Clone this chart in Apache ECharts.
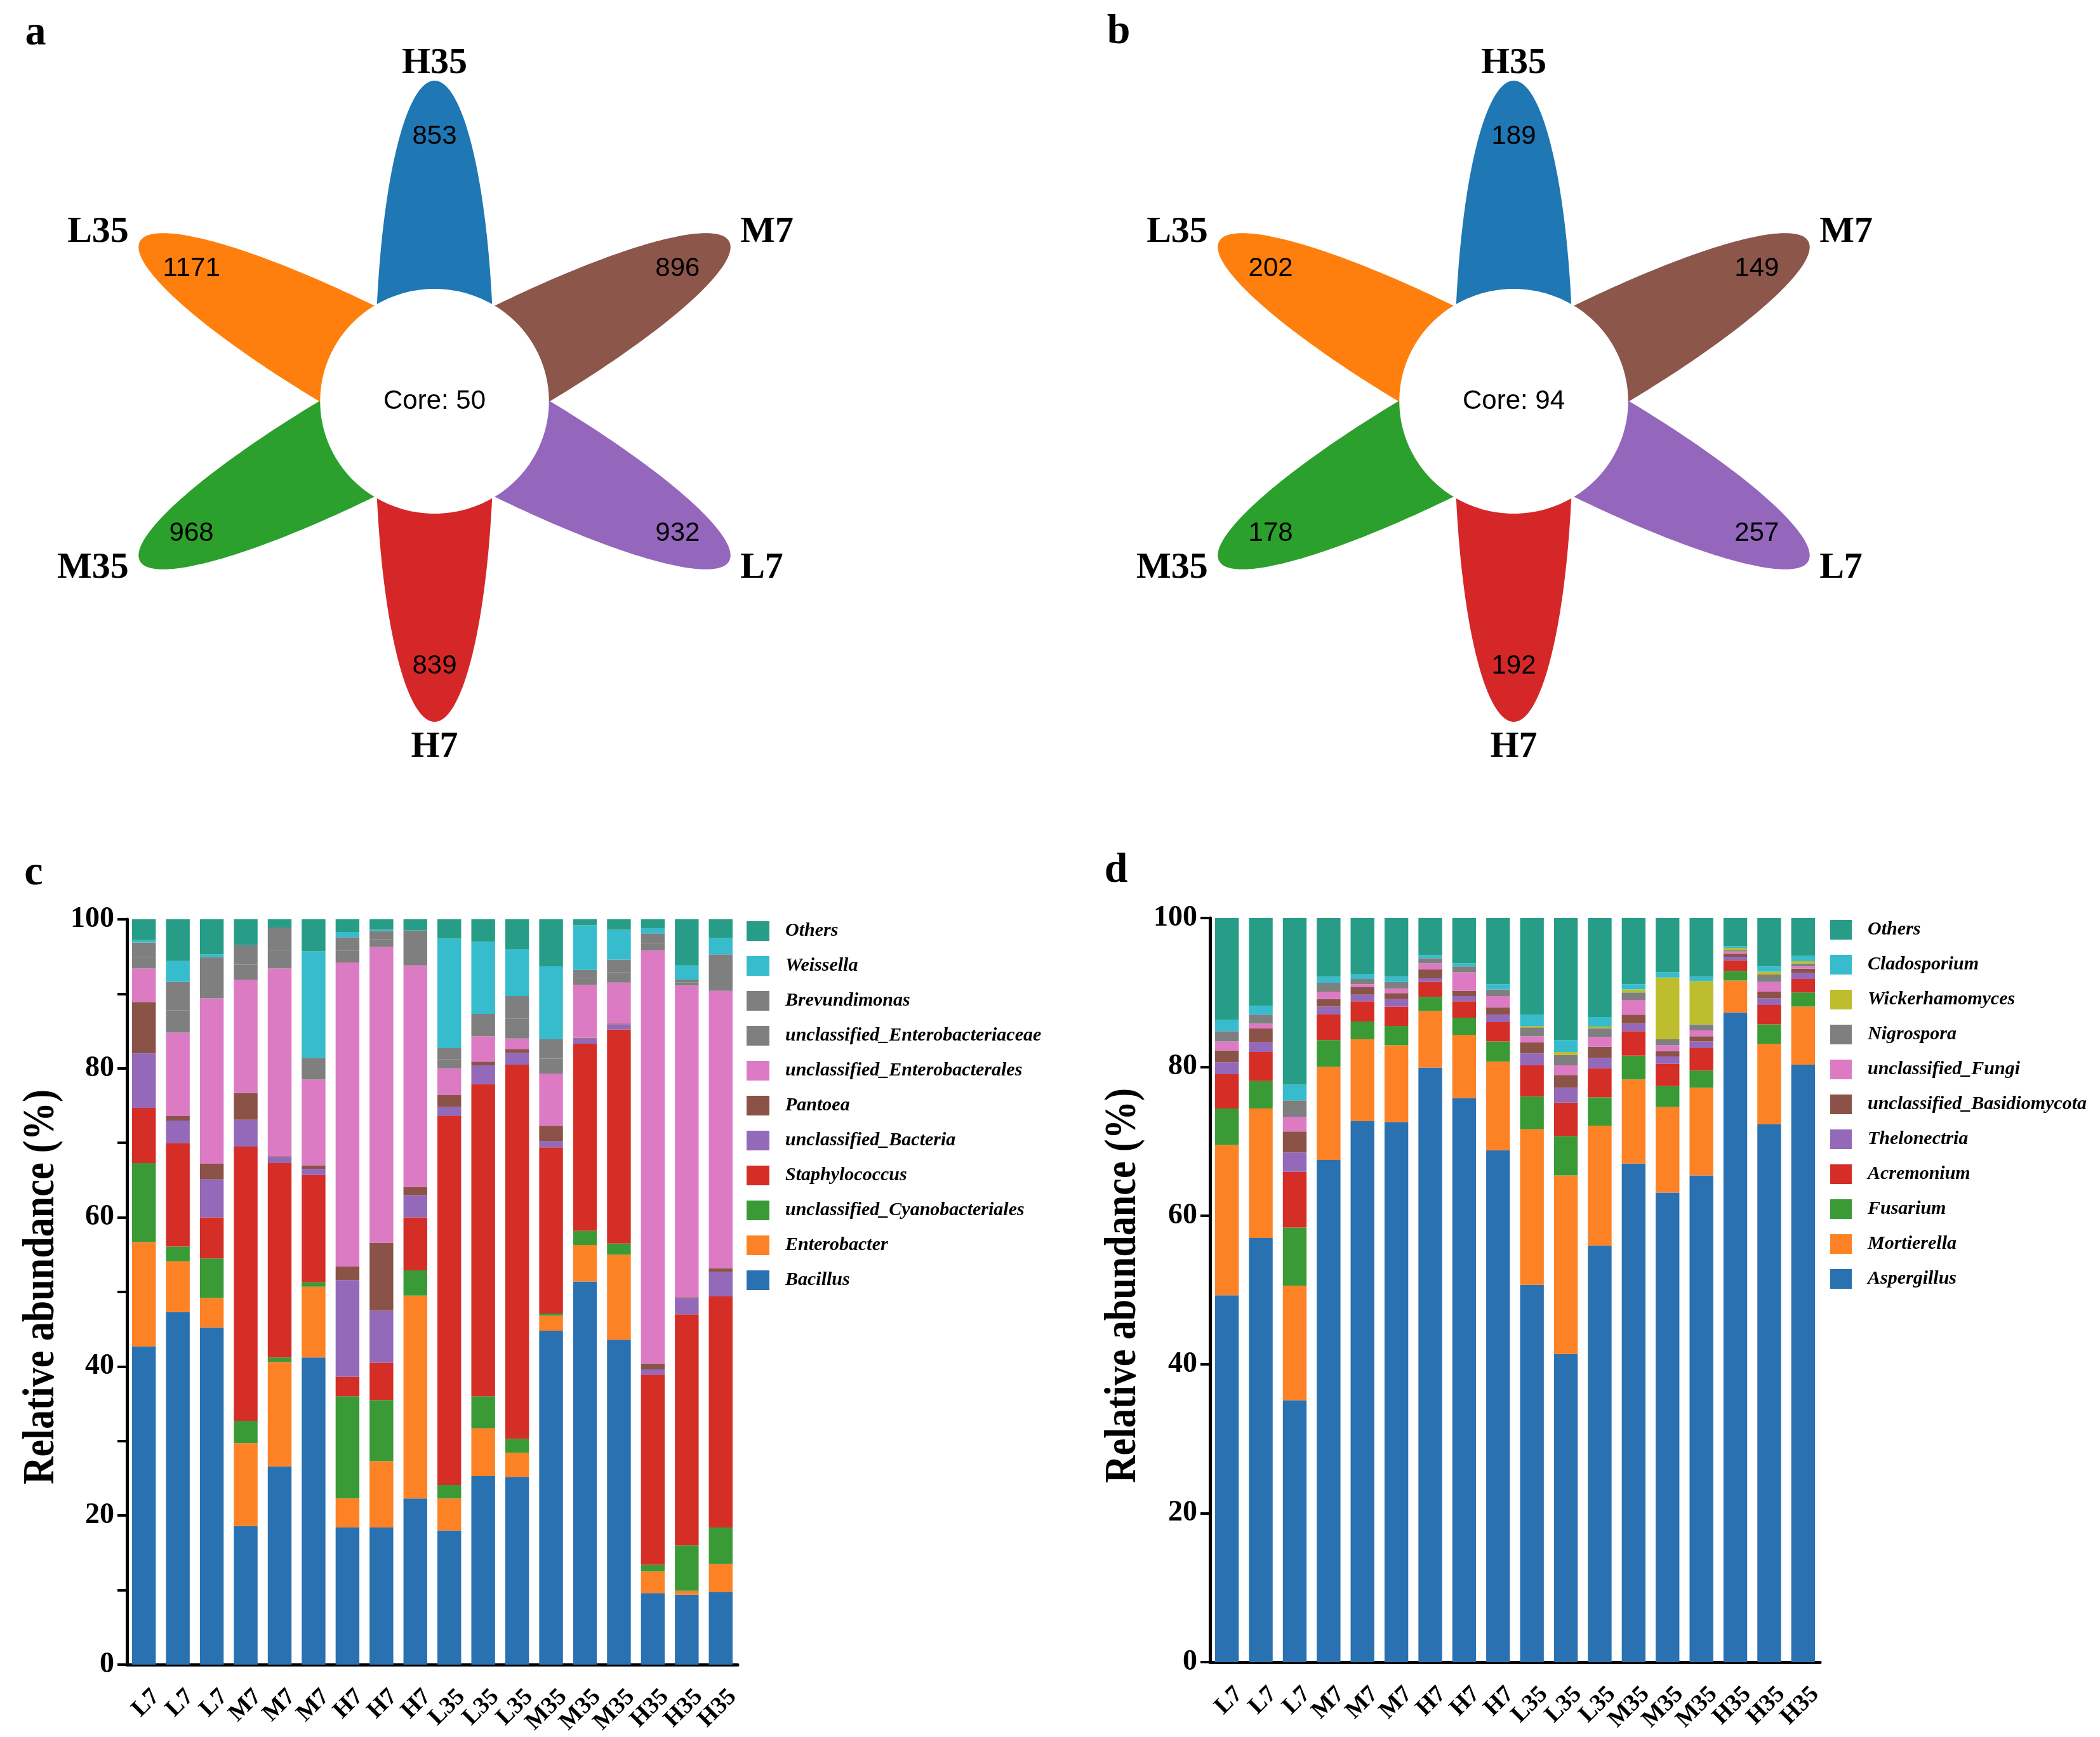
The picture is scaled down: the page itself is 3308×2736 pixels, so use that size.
<!DOCTYPE html>
<html>
<head>
<meta charset="utf-8">
<script src="https://cdn.jsdelivr.net/npm/echarts@6/dist/echarts.min.js"></script>
<style>html,body{margin:0;padding:0;background:#fff}#c{width:3308px;height:2736px}</style>
</head>
<body>
<div id="c"></div>
<script>
// ---------- Flower (Venn) data ----------
const petalNames = ['H35', 'M7', 'L7', 'H7', 'M35', 'L35'];
const petalColors = ['#1f77b4', '#8c564b', '#9467bd', '#d62728', '#2ca02c', '#ff7f0e'];
const bacteriaUnique = [853, 896, 932, 839, 968, 1171];
const bacteriaCore = 50;
const fungiUnique = [189, 149, 257, 192, 178, 202];
const fungiCore = 94;

// ---------- Stacked bar data ----------
const sampleLabels = ['L7','L7','L7','M7','M7','M7','H7','H7','H7','L35','L35','L35','M35','M35','M35','H35','H35','H35'];
const yTicks = [0, 20, 40, 60, 80, 100];
const yTitle = 'Relative abundance (%)';

// panel c (bacteria), bottom -> top
const bacNames = ['Bacillus','Enterobacter','unclassified_Cyanobacteriales','Staphylococcus','unclassified_Bacteria','Pantoea','unclassified_Enterobacterales','unclassified_Enterobacteriaceae','Brevundimonas','Weissella','Others'];
const bacColors = ['#2a71b1','#fd8226','#3a9b36','#d42e27','#9469b9','#8b5248','#dc7bc4','#7f7f7f','#7f7f7f','#36bccd','#279d88'];
const Bacillus = [42.7,47.3,45.2,18.6,26.6,41.2,18.4,18.4,22.3,18.0,25.3,25.2,44.8,51.4,43.6,9.6,9.4,9.7];
const Enterobacter = [14.0,6.8,4.0,11.1,14.0,9.5,3.9,8.9,27.2,4.3,6.4,3.2,2.0,4.9,11.4,2.9,0.5,3.8];
const uCyanobacteriales = [10.6,2.0,5.3,3.0,0.6,0.6,13.7,8.2,3.4,1.8,4.3,1.9,0.3,1.9,1.5,0.9,6.1,4.9];
const Staphylococcus = [7.4,13.9,5.5,36.8,26.1,14.4,2.6,5.0,7.1,49.5,41.9,50.2,22.3,25.1,28.7,25.5,31.0,31.0];
const uBacteria = [7.3,3.0,5.1,3.6,0.8,0.8,13.0,7.0,3.0,1.2,2.5,1.6,0.8,0.7,0.7,0.7,2.2,3.3];
const Pantoea = [6.9,0.6,2.1,3.6,0.1,0.5,1.8,9.1,1.1,1.6,0.5,0.5,2.1,0.1,0.1,0.8,0.1,0.5];
const uEnterobacterales = [4.5,11.2,22.2,15.2,25.2,11.5,40.8,39.7,29.7,3.6,3.4,1.4,7.0,7.1,5.5,55.4,41.8,37.2];
const uEnterobacteriaceae = [1.5,3.0,2.5,2.0,2.5,1.4,1.6,1.0,2.2,1.2,1.4,2.7,2.0,0.9,1.4,1.0,0.4,2.2];
const Brevundimonas = [2.0,3.8,3.0,2.6,3.0,1.5,1.8,1.1,2.5,1.5,1.6,3.0,2.6,1.1,1.7,1.3,0.4,2.7];
const Weissella = [0.3,2.8,0.4,0.1,0.0,14.3,0.7,0.2,0.0,14.7,9.7,6.3,9.8,6.0,4.0,0.7,1.9,2.2];
const bacOthers = [2.8,5.6,4.7,3.4,1.1,4.3,1.7,1.4,1.5,2.6,3.0,4.0,6.3,0.8,1.4,1.2,6.2,2.5];
const bacValues = [Bacillus,Enterobacter,uCyanobacteriales,Staphylococcus,uBacteria,Pantoea,uEnterobacterales,uEnterobacteriaceae,Brevundimonas,Weissella,bacOthers];

// panel d (fungi), bottom -> top
const funNames = ['Aspergillus','Mortierella','Fusarium','Acremonium','Thelonectria','unclassified_Basidiomycota','unclassified_Fungi','Nigrospora','Wickerhamomyces','Cladosporium','Others '];
const funColors = ['#2a71b1','#fd8226','#3a9b36','#d42e27','#9469b9','#8b5248','#dc7bc4','#7f7f7f','#bdbd2e','#36bccd','#279d88'];
const Aspergillus = [49.3,57.0,35.2,67.5,72.7,72.6,79.9,75.8,68.8,50.7,41.4,56.0,67.0,63.1,65.4,87.3,72.3,80.3];
const Mortierella = [20.2,17.4,15.4,12.5,11.0,10.3,7.6,8.5,11.9,20.9,24.0,16.1,11.3,11.5,11.8,4.3,10.8,7.8];
const Fusarium = [4.9,3.7,7.8,3.6,2.4,2.6,1.9,2.3,2.7,4.4,5.3,3.8,3.2,2.8,2.3,1.3,2.6,1.9];
const Acremonium = [4.6,3.9,7.5,3.5,2.7,2.6,2.0,2.2,2.6,4.2,4.5,3.9,3.3,3.0,3.0,1.4,2.6,1.8];
const Thelonectria = [1.6,1.3,2.6,1.0,0.9,1.0,0.5,0.7,1.0,1.6,2.0,1.4,1.0,1.0,0.9,0.5,0.9,0.8];
const uBasidiomycota = [1.6,1.9,2.8,1.0,1.0,0.8,1.2,0.7,1.0,1.5,1.7,1.5,1.2,0.7,0.7,0.4,0.9,0.6];
const uFungi = [1.2,0.6,2.0,1.0,0.4,0.6,0.8,2.5,1.5,0.8,1.3,1.3,2.0,0.8,0.8,0.3,1.3,0.3];
const Nigrospora = [1.4,1.2,2.2,1.2,0.7,0.9,0.7,0.8,0.9,1.2,1.4,1.2,1.0,0.8,0.8,0.2,1.0,0.4];
const Wickerhamomyces = [0,0,0,0,0,0,0,0,0,0.2,0.4,0.2,0.4,8.3,5.8,0.3,0.4,0.3];
const Cladosporium = [1.5,1.2,2.1,0.8,0.7,0.7,0.4,0.4,0.7,1.5,1.6,1.3,0.7,0.7,0.6,0.2,0.7,0.7];
const funOthers = [13.7,11.8,22.4,7.9,7.5,7.9,5.0,6.1,8.9,13.0,16.4,13.3,8.9,7.3,7.9,3.8,6.5,5.1];
const funValues = [Aspergillus,Mortierella,Fusarium,Acremonium,Thelonectria,uBasidiomycota,uFungi,Nigrospora,Wickerhamomyces,Cladosporium,funOthers];

// ---------- styling ----------
const SERIF = "'Liberation Serif','Times New Roman',serif";
const SANS = "'Liberation Sans',Arial,Helvetica,sans-serif";
const PETAL_A = 460, PETAL_B = 88, PETAL_C = 45, PETAL_BASE = 20;
const CORE_RX = 170, CORE_RY = 177;

function petalRender(params, api) {
  const i = params.dataIndex;
  const th = (90 - 60 * i) * Math.PI / 180;
  const ct = Math.cos(th), st = Math.sin(th);
  const t0 = Math.acos((PETAL_BASE - PETAL_C) / PETAL_A);
  const pts = [];
  const N = 120;
  for (let k = 0; k <= N; k++) {
    const t = -t0 + 2 * t0 * k / N;
    const lx = PETAL_C + PETAL_A * Math.cos(t), ly = PETAL_B * Math.sin(t);
    pts.push(api.coord([lx * ct - ly * st, lx * st + ly * ct]));
  }
  const cpos = api.coord([417 * ct, 417 * st]);
  const tip = PETAL_C + PETAL_A;
  let npos, align;
  if (Math.abs(ct) < 0.01) {
    npos = api.coord([0, st > 0 ? 532 : -545]);
    align = 'center';
  } else {
    npos = api.coord([tip * ct + (ct > 0 ? 17 : -17), tip * st + (st > 0 ? 13 : -11)]);
    align = ct > 0 ? 'left' : 'right';
  }
  return {
    type: 'group',
    children: [
      {type: 'polygon', shape: {points: pts}, style: {fill: petalColors[i]}},
      {type: 'text', x: cpos[0], y: cpos[1], style: {text: String(api.value(2)), font: '42px ' + SANS, fill: '#000', align: 'center', verticalAlign: 'middle'}},
      {type: 'text', x: npos[0], y: npos[1], style: {text: petalNames[i], font: 'bold 58px ' + SERIF, fill: '#000', align, verticalAlign: 'middle'}}
    ]
  };
}
function coreRender(params, api) {
  const pts = [];
  for (let k = 0; k < 180; k++) {
    const t = 2 * Math.PI * k / 180;
    pts.push(api.coord([CORE_RX * Math.cos(t), CORE_RY * Math.sin(t)]));
  }
  const c = api.coord([0, 0]);
  return {
    type: 'group',
    children: [
      {type: 'polygon', shape: {points: pts}, style: {fill: '#fff'}},
      {type: 'text', x: c[0], y: c[1], style: {text: 'Core: ' + api.value(2), font: '42px ' + SANS, fill: '#000', align: 'center', verticalAlign: 'middle'}}
    ]
  };
}

function flowerSeries(counts, core, idx) {
  return [
    {type: 'custom', xAxisIndex: idx, yAxisIndex: idx, renderItem: petalRender, silent: true, clip: false,
      data: counts.map((v, i) => ({name: petalNames[i], value: [0, 0, v]}))},
    {type: 'custom', xAxisIndex: idx, yAxisIndex: idx, renderItem: coreRender, silent: true, clip: false, z: 5,
      data: [{value: [0, 0, core]}]}
  ];
}

const axisTextStyle = {color: '#000', fontFamily: SERIF, fontWeight: 'bold'};

function valueAxis(gridIndex, interval) {
  return {
    gridIndex, type: 'value', min: 0, max: 100, interval,
    axisLine: {show: true, lineStyle: {color: '#000', width: 5}},
    axisTick: {show: true, length: 15, lineStyle: {color: '#000', width: 4}},
    axisLabel: Object.assign({fontSize: 46, margin: 20, formatter: v => (yTicks.indexOf(v) >= 0 ? String(v) : '')}, axisTextStyle),
    splitLine: {show: false}
  };
}
function catAxis(gridIndex) {
  return {
    gridIndex, type: 'category', data: sampleLabels,
    axisLine: {show: true, lineStyle: {color: '#000', width: 5}},
    axisTick: {show: false},
    axisLabel: Object.assign({
      rotate: 45, interval: 0, margin: 26,
      formatter: v => '{gap| }\n{t|' + v + '}',
      rich: {
        gap: {fontSize: 10, lineHeight: 54, height: 54},
        t: {fontSize: 38, lineHeight: 44, color: '#000', fontFamily: SERIF, fontWeight: 'bold'}
      }
    }, axisTextStyle)
  };
}
function hiddenAxis(gridIndex, min, max) {
  return {gridIndex, type: 'value', min, max, show: false, splitLine: {show: false}};
}

function barSeries(names, values, colors, idx, stack) {
  return names.map((n, k) => ({
    type: 'bar', name: n, stack, xAxisIndex: idx, yAxisIndex: idx, barWidth: '70%',
    itemStyle: {color: colors[k]}, data: values[k], silent: true
  }));
}

function letter(t, x, y) {
  return {type: 'text', x, y, style: {text: t, font: 'bold 66px ' + SERIF, fill: '#000', align: 'center', verticalAlign: 'middle'}};
}
function yTitleText(x, y) {
  return {type: 'text', x, y, rotation: Math.PI / 2, scaleX: 0.86, scaleY: 1,
    style: {text: yTitle, font: 'bold 70px ' + SERIF, fill: '#000', align: 'center', verticalAlign: 'middle'}};
}

const legendText = {color: '#000', fontFamily: SERIF, fontWeight: 'bold', fontStyle: 'italic', fontSize: 30, padding: [0, 0, 0, 20]};

const chart = echarts.init(document.getElementById('c'), null, {renderer: 'canvas'});
chart.setOption({
  backgroundColor: '#fff',
  animation: false,
  grid: [
    {left: 200, top: 1448, width: 962, height: 1174, outerBoundsMode: 'none'},
    {left: 1906, top: 1446, width: 961, height: 1172, outerBoundsMode: 'none'},
    {left: 6, top: 12, width: 1357, height: 1240, outerBoundsMode: 'none'},
    {left: 1706, top: 12, width: 1357, height: 1240, outerBoundsMode: 'none'}
  ],
  xAxis: [catAxis(0), catAxis(1), hiddenAxis(2, -640, 640), hiddenAxis(3, -640, 640)],
  yAxis: [valueAxis(0, 10), valueAxis(1, 20), hiddenAxis(2, -620, 620), hiddenAxis(3, -620, 620)],
  legend: [
    {orient: 'vertical', left: 1171, top: 1446, itemWidth: 36, itemHeight: 31, itemGap: 24, icon: 'rect',
      data: bacNames.slice().reverse(), textStyle: legendText, selectedMode: false},
    {orient: 'vertical', left: 2878, top: 1444, itemWidth: 34, itemHeight: 31, itemGap: 24, icon: 'rect',
      data: funNames.slice().reverse(), textStyle: legendText, selectedMode: false,
      formatter: n => n.trim()}
  ],
  graphic: [
    letter('a', 56, 53), letter('b', 1762, 51), letter('c', 53, 1376), letter('d', 1758, 1372),
    yTitleText(66, 2027), yTitleText(1770, 2025)
  ],
  series: [].concat(
    barSeries(bacNames, bacValues, bacColors, 0, 'bac'),
    barSeries(funNames, funValues, funColors, 1, 'fun'),
    flowerSeries(bacteriaUnique, bacteriaCore, 2),
    flowerSeries(fungiUnique, fungiCore, 3)
  )
});
</script>
</body>
</html>
